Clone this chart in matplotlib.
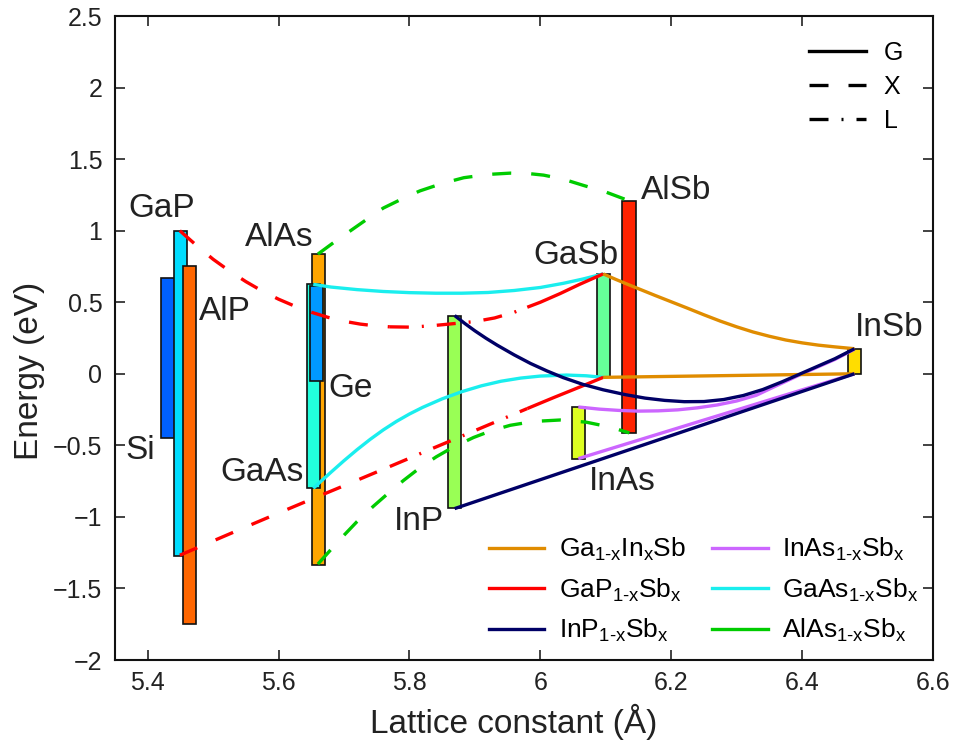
import matplotlib
matplotlib.use("Agg")
import matplotlib.pyplot as plt
from matplotlib.lines import Line2D
from matplotlib.ticker import FuncFormatter, MultipleLocator

plt.rcParams["font.family"] = ["Liberation Sans", "DejaVu Sans"]
plt.rcParams["mathtext.fontset"] = "custom"
plt.rcParams["mathtext.rm"] = "Liberation Sans"
plt.rcParams["mathtext.it"] = "Liberation Sans:italic"
plt.rcParams["mathtext.bf"] = "Liberation Sans:bold"

# ---- binary compounds: lattice constant (A), VBM, CBM (eV) ----
compounds = ["Si", "GaP", "AlP", "AlAs", "GaAs", "Ge", "InP", "GaSb", "AlSb", "InAs", "InSb"]
lattice = [5.431, 5.4505, 5.4635, 5.6611, 5.6533, 5.658, 5.8687, 6.0959, 6.1355, 6.0583, 6.4794]
vbm = [-0.45, -1.27, -1.745, -1.335, -0.80, -0.05, -0.94, -0.025, -0.413, -0.593, 0.0]
cbm = [0.67, 1.0, 0.75, 0.835, 0.625, 0.61, 0.407, 0.698, 1.208, -0.232, 0.175]
bar_colors = ["#0060FF", "#00DDFF", "#FF6600", "#FFA500", "#22FFDD", "#0099FF",
              "#99FF55", "#66FF99", "#FF2200", "#DDFF22", "#FFDD00"]

# ---- ternary alloys ----
# GaP(1-x)Sb(x): conduction band, X / L / G segments
gapsb_cb_x_a = [5.449, 5.475, 5.500, 5.525, 5.550, 5.575, 5.600, 5.625, 5.650, 5.675, 5.700, 5.725, 5.750, 5.770]
gapsb_cb_x_e = [1.000, 0.895, 0.800, 0.718, 0.644, 0.578, 0.521, 0.472, 0.430, 0.395, 0.367, 0.347, 0.334, 0.328]
gapsb_cb_l_a = [5.770, 5.800, 5.830, 5.860, 5.900, 5.930, 5.960, 5.980]
gapsb_cb_l_e = [0.328, 0.326, 0.334, 0.347, 0.365, 0.390, 0.430, 0.465]
gapsb_cb_g_a = [5.980, 6.000, 6.030, 6.060, 6.096]
gapsb_cb_g_e = [0.465, 0.500, 0.560, 0.625, 0.698]
# GaP(1-x)Sb(x): valence band
gapsb_vb_x_a = [5.449, 5.500, 5.550, 5.600, 5.650, 5.700, 5.770]
gapsb_vb_x_e = [-1.268, -1.168, -1.070, -0.973, -0.877, -0.782, -0.648]
gapsb_vb_l_a = [5.770, 5.800, 5.835, 5.870, 5.900, 5.940, 5.980]
gapsb_vb_l_e = [-0.648, -0.590, -0.522, -0.455, -0.397, -0.320, -0.243]
gapsb_vb_g_a = [5.980, 6.020, 6.060, 6.096]
gapsb_vb_g_e = [-0.243, -0.167, -0.093, -0.025]

# AlAs(1-x)Sb(x) (X everywhere)
alassb_cb_a = [5.660, 5.685, 5.710, 5.735, 5.760, 5.790, 5.816, 5.850, 5.883, 5.920, 5.954,
               5.980, 6.005, 6.035, 6.066, 6.100, 6.136]
alassb_cb_e = [0.836, 0.920, 1.000, 1.080, 1.158, 1.225, 1.278, 1.330, 1.370, 1.393, 1.402,
               1.400, 1.388, 1.360, 1.316, 1.270, 1.208]
alassb_vb_a = [5.660, 5.680, 5.700, 5.720, 5.745, 5.770, 5.791, 5.815, 5.841, 5.867, 5.898,
               5.925, 5.954, 5.990, 6.030, 6.070, 6.107, 6.136]
alassb_vb_e = [-1.330, -1.228, -1.128, -1.032, -0.925, -0.825, -0.745, -0.660, -0.580, -0.512,
               -0.445, -0.398, -0.360, -0.333, -0.323, -0.338, -0.373, -0.413]

# GaAs(1-x)Sb(x) (G)
gaassb_cb_a = [5.653, 5.680, 5.720, 5.760, 5.800, 5.840, 5.880, 5.920, 5.960, 6.000, 6.035, 6.065, 6.096]
gaassb_cb_e = [0.625, 0.606, 0.588, 0.575, 0.567, 0.563, 0.563, 0.568, 0.582, 0.603, 0.632, 0.662, 0.698]
gaassb_vb_a = [5.653, 5.665, 5.680, 5.700, 5.720, 5.740, 5.760, 5.780, 5.800, 5.820, 5.850,
               5.880, 5.910, 5.940, 5.970, 6.000, 6.040, 6.070, 6.096]
gaassb_vb_e = [-0.800, -0.750, -0.688, -0.607, -0.530, -0.458, -0.392, -0.333, -0.281, -0.235,
               -0.175, -0.125, -0.084, -0.052, -0.030, -0.016, -0.009, -0.014, -0.025]

# InP(1-x)Sb(x) (G)
inpsb_cb_a = [5.869, 5.885, 5.900, 5.917, 5.934, 5.960, 5.985, 6.010, 6.035, 6.065, 6.096, 6.130,
              6.160, 6.190, 6.220, 6.250, 6.280, 6.310, 6.340, 6.370, 6.400, 6.425, 6.450, 6.480]
inpsb_cb_e = [0.407, 0.350, 0.300, 0.248, 0.200, 0.132, 0.072, 0.020, -0.027, -0.074, -0.112, -0.146,
              -0.170, -0.186, -0.195, -0.194, -0.180, -0.152, -0.110, -0.055, 0.005, 0.055, 0.105, 0.175]
inpsb_vb_a = [5.869, 6.480]
inpsb_vb_e = [-0.942, 0.000]

# InAs(1-x)Sb(x) (G)
inassb_cb_a = [6.058, 6.090, 6.120, 6.150, 6.180, 6.210, 6.240, 6.270, 6.300, 6.330, 6.360,
               6.400, 6.425, 6.450, 6.480]
inassb_cb_e = [-0.232, -0.247, -0.256, -0.261, -0.259, -0.252, -0.238, -0.218, -0.190, -0.150,
               -0.085, 0.000, 0.050, 0.100, 0.172]
inassb_vb_a = [6.058, 6.480]
inassb_vb_e = [-0.593, 0.000]

# Ga(1-x)In(x)Sb (G)
gainsb_cb_a = [6.096, 6.115, 6.135, 6.155, 6.175, 6.200, 6.225, 6.250, 6.275, 6.300, 6.325,
               6.350, 6.375, 6.400, 6.425, 6.450, 6.480]
gainsb_cb_e = [0.698, 0.660, 0.622, 0.585, 0.548, 0.503, 0.458, 0.412, 0.368, 0.328, 0.292,
               0.262, 0.236, 0.216, 0.200, 0.188, 0.175]
gainsb_vb_a = [6.096, 6.480]
gainsb_vb_e = [-0.025, 0.000]

# ---- styles ----
LW = 2.4
STYLE = {
    "G": "-",
    "X": (0, (5.7, 6.0)),
    "L": (0, (5.7, 3.9, 0.6, 3.9)),
}
C_GAINSB = "#E08C00"
C_GAPSB = "#FF0000"
C_INPSB = "#000066"
C_INASSB = "#CC66FF"
C_GAASSB = "#1AEEEE"
C_ALASSB = "#00CC00"
TXT = "#222222"

LABEL_POS = {
    "GaP": (5.4214, 1.157), "Si": (5.388, -0.535), "AlP": (5.518, 0.435),
    "AlAs": (5.6005, 0.953), "Ge": (5.7106, -0.103), "GaAs": (5.5748, -0.692),
    "InP": (5.8148, -1.035), "GaSb": (6.0546, 0.826), "AlSb": (6.2075, 1.279),
    "InAs": (6.1248, -0.756), "InSb": (6.5335, 0.32),
}

fig = plt.figure(figsize=(9.54, 7.44), dpi=100)
ax = fig.add_axes([115 / 954, 84 / 744, 818 / 954, 644 / 744])

# bars
for name, a, lo, hi, col in zip(compounds, lattice, vbm, cbm, bar_colors):
    ax.bar(a, hi - lo, width=0.02, bottom=lo, color=col, edgecolor="#111111",
           linewidth=1.2, zorder=2)
    tx, ty = LABEL_POS[name]
    ax.text(tx, ty, name, fontsize=24, ha="center", va="center", color=TXT, zorder=5)


def curve(xs, ys, color, kind="G"):
    ax.plot(xs, ys, color=color, lw=LW, ls=STYLE[kind], zorder=3,
            solid_capstyle="butt", dash_capstyle="butt", solid_joinstyle="round")


curve(alassb_cb_a, alassb_cb_e, C_ALASSB, "X")
curve(alassb_vb_a, alassb_vb_e, C_ALASSB, "X")
curve(gaassb_cb_a, gaassb_cb_e, C_GAASSB)
curve(gaassb_vb_a, gaassb_vb_e, C_GAASSB)
curve(gapsb_cb_x_a, gapsb_cb_x_e, C_GAPSB, "X")
curve(gapsb_cb_l_a, gapsb_cb_l_e, C_GAPSB, "L")
curve(gapsb_cb_g_a, gapsb_cb_g_e, C_GAPSB, "G")
curve(gapsb_vb_x_a, gapsb_vb_x_e, C_GAPSB, "X")
curve(gapsb_vb_l_a, gapsb_vb_l_e, C_GAPSB, "L")
curve(gapsb_vb_g_a, gapsb_vb_g_e, C_GAPSB, "G")
curve(inassb_cb_a, inassb_cb_e, C_INASSB)
curve(inassb_vb_a, inassb_vb_e, C_INASSB)
curve(gainsb_cb_a, gainsb_cb_e, C_GAINSB)
curve(gainsb_vb_a, gainsb_vb_e, C_GAINSB)
curve(inpsb_cb_a, inpsb_cb_e, C_INPSB)
curve(inpsb_vb_a, inpsb_vb_e, C_INPSB)

# axes
ax.set_xlim(5.35, 6.6)
ax.set_ylim(-2, 2.5)
ax.xaxis.set_major_locator(MultipleLocator(0.2))
ax.yaxis.set_major_locator(MultipleLocator(0.5))
fmt = FuncFormatter(lambda v, p: f"{v:g}".replace("-", "\u2212"))
ax.xaxis.set_major_formatter(fmt)
ax.yaxis.set_major_formatter(fmt)
ax.tick_params(direction="in", length=7, width=1.2, top=True, right=True,
               labelsize=18, colors=TXT)
ax.tick_params(axis="x", pad=8)
ax.tick_params(axis="y", pad=9)
for s in ax.spines.values():
    s.set_linewidth(1.5)
    s.set_color("#111111")
ax.set_xlabel("Lattice constant (\u00c5)", fontsize=24, color=TXT)
ax.set_ylabel("Energy (eV)", fontsize=24, color=TXT)
ax.xaxis.set_label_coords(0.488, -0.068)
ax.yaxis.set_label_coords(-0.086, 0.449)

# legend: band character
h1 = [Line2D([], [], color="k", lw=LW, ls=STYLE[k]) for k in ["G", "X", "L"]]
leg1 = ax.legend(h1, ["G", "X", "L"], loc="upper right", bbox_to_anchor=(0.991, 0.996),
                 frameon=False, fontsize=18, handlelength=2.3, handletextpad=0.7,
                 labelspacing=0.4)
ax.add_artist(leg1)

# legend: alloys
h2 = [Line2D([], [], color=c, lw=LW) for c in
      [C_GAINSB, C_GAPSB, C_INPSB, C_INASSB, C_GAASSB, C_ALASSB]]
names = [r"Ga$_{\text{1-x}}$In$_{\text{x}}$Sb", r"GaP$_{\text{1-x}}$Sb$_{\text{x}}$",
         r"InP$_{\text{1-x}}$Sb$_{\text{x}}$", r"InAs$_{\text{1-x}}$Sb$_{\text{x}}$",
         r"GaAs$_{\text{1-x}}$Sb$_{\text{x}}$", r"AlAs$_{\text{1-x}}$Sb$_{\text{x}}$"]
ax.legend(h2, names, loc="lower right", bbox_to_anchor=(1.011, -0.012), ncol=2,
          frameon=False, fontsize=19, handlelength=2.1, handletextpad=0.55,
          columnspacing=1.0, labelspacing=0.5)

fig.savefig("out.png", dpi=100)
